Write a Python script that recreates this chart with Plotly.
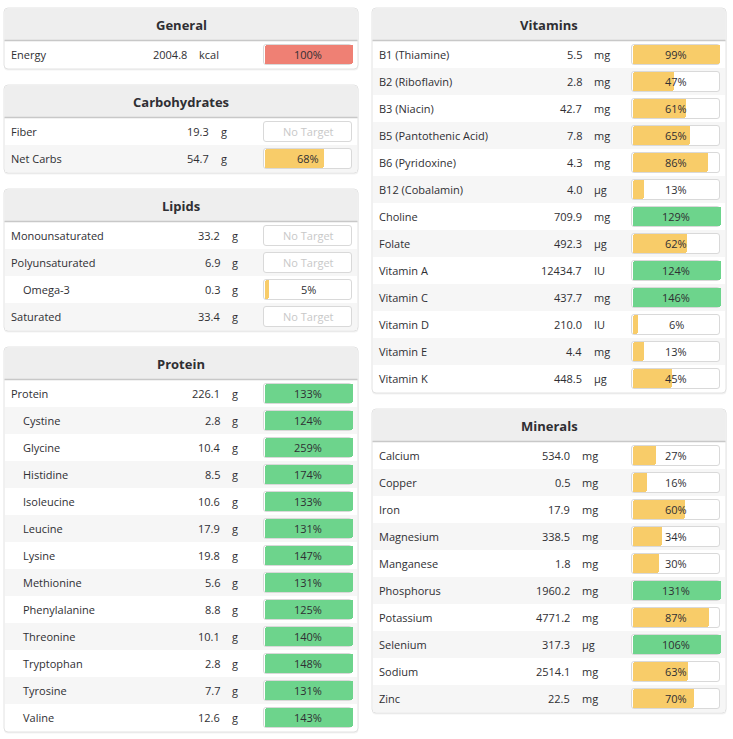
import plotly.graph_objects as go

# ---- data ----
general_names = ["Energy"]
general_values = [2004.8]
general_units = ["kcal"]
general_pct = [100]

carb_names = ["Fiber", "Net Carbs"]
carb_values = [19.3, 54.7]
carb_units = ["g", "g"]
carb_pct = [None, 68]

lipid_names = ["Monounsaturated", "Polyunsaturated", "Omega-3", "Saturated"]
lipid_values = [33.2, 6.9, 0.3, 33.4]
lipid_units = ["g", "g", "g", "g"]
lipid_pct = [None, None, 5, None]
lipid_indent = [0, 0, 1, 0]

protein_names = ["Protein", "Cystine", "Glycine", "Histidine", "Isoleucine",
                 "Leucine", "Lysine", "Methionine", "Phenylalanine",
                 "Threonine", "Tryptophan", "Tyrosine", "Valine"]
protein_values = [226.1, 2.8, 10.4, 8.5, 10.6, 17.9, 19.8, 5.6, 8.8,
                  10.1, 2.8, 7.7, 12.6]
protein_units = ["g"] * 13
protein_pct = [133, 124, 259, 174, 133, 131, 147, 131, 125, 140, 148, 131, 143]
protein_indent = [0] + [1] * 12

vitamin_names = ["B1 (Thiamine)", "B2 (Riboflavin)", "B3 (Niacin)",
                 "B5 (Pantothenic Acid)", "B6 (Pyridoxine)", "B12 (Cobalamin)",
                 "Choline", "Folate", "Vitamin A", "Vitamin C", "Vitamin D",
                 "Vitamin E", "Vitamin K"]
vitamin_values = [5.5, 2.8, 42.7, 7.8, 4.3, 4.0, 709.9, 492.3, 12434.7,
                  437.7, 210.0, 4.4, 448.5]
vitamin_units = ["mg", "mg", "mg", "mg", "mg", "µg", "mg", "µg", "IU",
                 "mg", "IU", "mg", "µg"]
vitamin_pct = [99, 47, 61, 65, 86, 13, 129, 62, 124, 146, 6, 13, 45]

mineral_names = ["Calcium", "Copper", "Iron", "Magnesium", "Manganese",
                 "Phosphorus", "Potassium", "Selenium", "Sodium", "Zinc"]
mineral_values = [534.0, 0.5, 17.9, 338.5, 1.8, 1960.2, 4771.2, 317.3,
                  2514.1, 22.5]
mineral_units = ["mg", "mg", "mg", "mg", "mg", "mg", "mg", "µg", "mg", "mg"]
mineral_pct = [27, 16, 60, 34, 30, 131, 87, 106, 63, 70]

# ---- layout constants (pixels) ----
W, H = 733, 739
ROW_H = 27
HEAD_H = 32
GAP = 16
COLS = {"left": (4, 358), "right": (372, 726)}
BAR_W = 88
PAD = 2  # annotation text padding

RED = "#ef8074"
YELLOW = "#f8cc69"
GREEN = "#6dd48c"
TXT = "#2f2f33"
FONT = "Open Sans"

panels = [
    # title, names, values, units, pct, indent, column, value right edge, unit x
    ("General", general_names, general_values, general_units, general_pct,
     None, "left", 187, 199),
    ("Carbohydrates", carb_names, carb_values, carb_units, carb_pct,
     None, "left", 209, 221),
    ("Lipids", lipid_names, lipid_values, lipid_units, lipid_pct,
     lipid_indent, "left", 220, 232),
    ("Protein", protein_names, protein_values, protein_units, protein_pct,
     protein_indent, "left", 220, 232),
    ("Vitamins", vitamin_names, vitamin_values, vitamin_units, vitamin_pct,
     None, "right", 582, 594),
    ("Minerals", mineral_names, mineral_values, mineral_units, mineral_pct,
     None, "right", 570, 582),
]


def rrect(x0, y0, x1, y1, r, bottom=True):
    p = f"M {x0+r},{y0} L {x1-r},{y0} Q {x1},{y0} {x1},{y0+r} "
    if bottom:
        p += (f"L {x1},{y1-r} Q {x1},{y1} {x1-r},{y1} L {x0+r},{y1} "
              f"Q {x0},{y1} {x0},{y1-r} ")
    else:
        p += f"L {x1},{y1} L {x0},{y1} "
    p += f"L {x0},{y0+r} Q {x0},{y0} {x0+r},{y0} Z"
    return p


fig = go.Figure()
shapes = []
annotations = []

tops = {"left": 8, "right": 8}
for title, names, values, units, pct, indent, col, val_x, unit_x in panels:
    x0, x1 = COLS[col]
    top = tops[col]
    n = len(names)
    bottom = top + HEAD_H + 1 + ROW_H * n + 1
    tops[col] = bottom + GAP

    # panel frame, shadow and header
    shapes.append(dict(type="path", path=rrect(x0, top + 1, x1 + 0.5, bottom + 1.5, 4),
                       fillcolor="rgba(0,0,0,0.05)", line_width=0, layer="below"))
    shapes.append(dict(type="path", path=rrect(x0, top, x1, bottom, 4),
                       fillcolor="white", line=dict(color="#e2e2e2", width=1),
                       layer="below"))
    shapes.append(dict(type="path", path=rrect(x0 + 0.5, top + 0.5, x1 - 0.5, top + HEAD_H, 4,
                                               bottom=False),
                       fillcolor="#eeeeee", line_width=0, layer="below"))
    shapes.append(dict(type="line", x0=x0 + 0.5, x1=x1 - 0.5,
                       y0=top + HEAD_H + 0.5, y1=top + HEAD_H + 0.5,
                       line=dict(color="#c8c8c8", width=1.5), layer="below"))
    annotations.append(dict(x=(x0 + x1) / 2, y=top + HEAD_H / 2 + 1, text=f"<b>{title}</b>",
                            showarrow=False, xanchor="center", yanchor="middle",
                            font=dict(family=FONT, size=13, color=TXT)))

    row_y = [top + HEAD_H + 1 + ROW_H * k + ROW_H / 2 for k in range(n)]
    for k in range(n):
        if k % 2 == 1:
            shapes.append(dict(type="rect", x0=x0 + 1, x1=x1 - 1,
                               y0=row_y[k] - ROW_H / 2, y1=row_y[k] + ROW_H / 2,
                               fillcolor="#f6f6f6", line_width=0, layer="below"))

    bar_x0 = x1 - 6 - BAR_W
    # empty bar boxes
    fig.add_trace(go.Bar(orientation="h", y=row_y, x=[BAR_W] * n, base=bar_x0,
                         width=20, marker=dict(color="white", cornerradius=3,
                                               line=dict(color="#d9d9d9", width=1)),
                         hoverinfo="skip", showlegend=False))
    # filled part
    fy, fx, fc = [], [], []
    for k in range(n):
        if pct[k] is None:
            continue
        fy.append(row_y[k])
        fx.append(min(pct[k], 100) / 100 * BAR_W)
        if names[k] == "Energy":
            fc.append(RED)
        elif pct[k] >= 100:
            fc.append(GREEN)
        else:
            fc.append(YELLOW)
    fig.add_trace(go.Bar(orientation="h", y=fy, x=fx, base=bar_x0 + 0.5,
                         width=19, marker=dict(color=fc, cornerradius=2, line_width=0),
                         hoverinfo="skip", showlegend=False))

    for k in range(n):
        ind = indent[k] if indent else 0
        annotations.append(dict(x=x0 + 7 + 12 * ind - PAD, y=row_y[k], text=names[k],
                                showarrow=False, xanchor="left", yanchor="middle",
                                font=dict(family=FONT, size=11, color=TXT)))
        annotations.append(dict(x=val_x + PAD, y=row_y[k], text=f"{values[k]:.1f}",
                                showarrow=False, xanchor="right", yanchor="middle",
                                font=dict(family=FONT, size=11, color=TXT)))
        annotations.append(dict(x=unit_x - PAD, y=row_y[k], text=units[k],
                                showarrow=False, xanchor="left", yanchor="middle",
                                font=dict(family=FONT, size=11, color=TXT)))
        if pct[k] is None:
            label, color = "No Target", "#c8c8c8"
        else:
            label, color = f"{pct[k]}%", TXT
        annotations.append(dict(x=bar_x0 + BAR_W / 2, y=row_y[k], text=label,
                                showarrow=False, xanchor="center", yanchor="middle",
                                font=dict(family=FONT, size=11, color=color)))

fig.update_layout(
    width=W, height=H,
    margin=dict(l=0, r=0, t=0, b=0),
    paper_bgcolor="white", plot_bgcolor="white",
    barmode="overlay", bargap=0,
    xaxis=dict(range=[0, W], visible=False, fixedrange=True),
    yaxis=dict(range=[H, 0], visible=False, fixedrange=True),
    shapes=shapes, annotations=annotations,
)

# drop the browser's default body margin so figure pixels match page pixels
fig.write_html("out.html", config={"displayModeBar": False},
               post_script="document.body.style.margin='0';document.body.style.overflow='hidden';")
